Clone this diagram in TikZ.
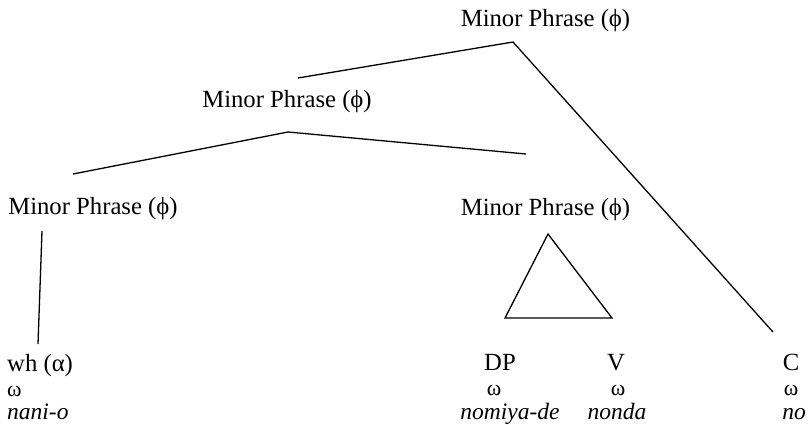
\documentclass[tikz,border=0pt]{standalone}
\usepackage{fontspec}
\setmainfont{Liberation Serif}
\begin{document}
\begin{tikzpicture}[x=1pt,y=-1pt,
  lab/.style={inner sep=0pt,anchor=base,font=\fontsize{24.7}{28}\selectfont},
  wd/.style={inner sep=0pt,anchor=base,font=\fontsize{23.5}{27}\selectfont\itshape},
  om/.style={inner sep=0pt,anchor=base,font=\fontsize{22}{24}\selectfont},
  branch/.style={line width=1.3pt}]
\useasboundingbox (0,0) rectangle (809,424);
% phrase labels
\node[lab] (mpTop) at (545.5,26) {Minor Phrase (ϕ)};
\node[lab] (mpMid) at (287,107) {Minor Phrase (ϕ)};
\node[lab] (mpL) at (93,214) {Minor Phrase (ϕ)};
\node[lab] (mpR) at (545.5,215) {Minor Phrase (ϕ)};
% terminals
\node[lab,anchor=base west] (wh) at (7,371) {wh (α)};
\node[om,anchor=base west] (whw) at (7,396) {ω};
\node[wd,anchor=base west] (whx) at (7,419) {nani-o};
\node[lab] (dp) at (500,370) {DP};
\node[om] (dpw) at (494,395) {ω};
\node[wd] (dpx) at (510,419) {nomiya-de};
\node[lab] (v) at (616,370) {V};
\node[om] (vw) at (618,395) {ω};
\node[wd] (vx) at (617,419) {nonda};
\node[lab] (c) at (791,370) {C};
\node[om] (cw) at (791,395) {ω};
\node[wd] (cx) at (794,419) {no};
% branching points
\coordinate (t0) at (513,42);
\coordinate (t1) at (298,78);
\coordinate (t2) at (773,332);
\coordinate (m0) at (288,132);
\coordinate (m1) at (73,174);
\coordinate (m2) at (526,154);
\coordinate (l0) at (42,231);
\coordinate (l1) at (38,344);
\coordinate (r0) at (548,234);
\coordinate (r1) at (505,318);
\coordinate (r2) at (612,318);
% branches
\draw[branch] (t1) -- (t0) -- (t2);
\draw[branch] (m1) -- (m0) -- (m2);
\draw[branch] (l0) -- (l1);
\draw[branch,line join=miter] (r0) -- (r1) -- (r2) -- cycle;
\end{tikzpicture}
\end{document}
